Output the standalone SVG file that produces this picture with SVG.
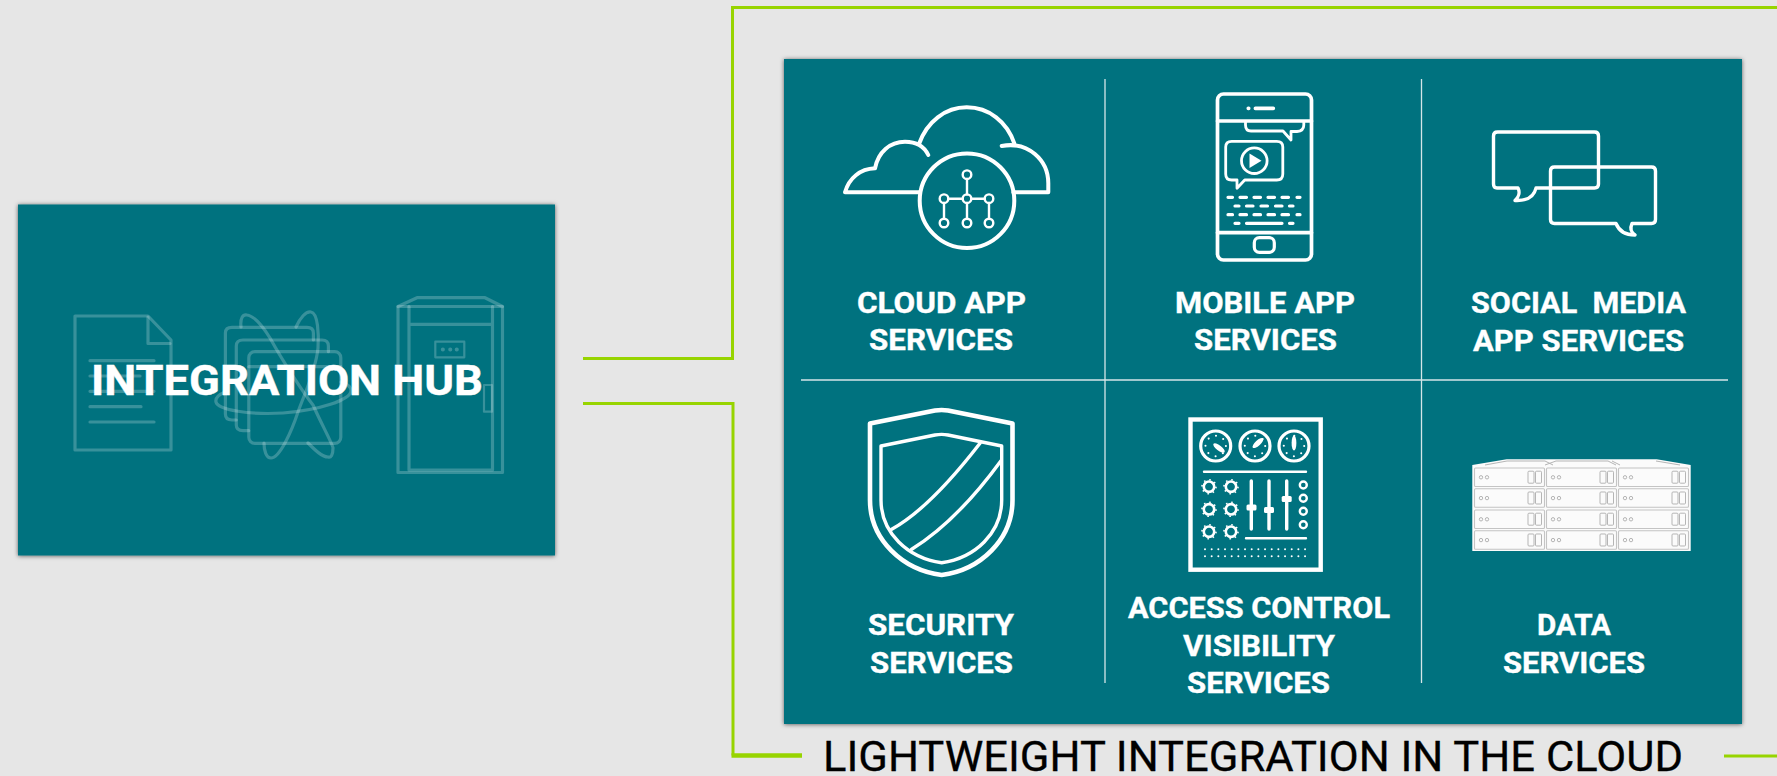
<svg xmlns="http://www.w3.org/2000/svg" xmlns:xlink="http://www.w3.org/1999/xlink" width="1777" height="776" viewBox="0 0 1777 776">
<style>
.box{fill:#02727f;filter:url(#sh)}
.lbl{font-family:Roboto,"Liberation Sans",sans-serif;font-weight:700;font-size:29.5px;fill:#fff;stroke:#fff;stroke-width:.35}
.ic{fill:none;stroke:#fff;stroke-linejoin:round;stroke-linecap:round}
.gh{fill:none;stroke:#fff;stroke-opacity:.22;stroke-width:3.2;stroke-linejoin:round;stroke-linecap:round}
.conn{fill:none;stroke:#97d400;stroke-width:3}
.div{stroke:#d5e6e8;stroke-width:1.3}
.cell{fill:#fbfbfb;stroke:#c4c4c4;stroke-width:1.1}
.srv{fill:none;stroke:#b5b5b5;stroke-width:1}
</style>
<defs>
<filter id="sh" x="-3%" y="-3%" width="106%" height="106%"><feDropShadow dx="0" dy="0.5" stdDeviation="2" flood-color="#000" flood-opacity=".6"/></filter>
<g id="gauge"><circle r="15" fill="none" stroke="#fff" stroke-width="3.2"/><circle r="10.2" fill="none" stroke="#fff" stroke-width="2.1" stroke-linecap="round" stroke-dasharray="0 8.01"/></g>
<g id="knob"><circle r="5.2" fill="none" stroke="#fff" stroke-width="2.6"/><circle r="7" fill="none" stroke="#fff" stroke-width="1.6" stroke-dasharray="1.6 3.9"/></g>
<g id="cell"><rect class="cell" width="70" height="18.5" rx="1"/><circle class="srv" cx="6.5" cy="9.3" r="1.7"/><circle class="srv" cx="12.5" cy="9.3" r="1.7"/><rect class="srv" x="53.5" y="3.2" width="6" height="12" rx="1"/><rect class="srv" x="61" y="3.2" width="6" height="12" rx="1"/></g>
<g id="col"><use href="#cell" y="0"/><use href="#cell" y="20.8"/><use href="#cell" y="42"/><use href="#cell" y="62.8"/></g>
</defs>
<rect width="1777" height="776" fill="#e6e6e6"/>
<g id="connectors">
<path class="conn" d="M583,358.500H732.500V7.500H1777"/>
<path class="conn" d="M583,403.500H733V755.500"/>
<path class="conn" style="stroke-width:4.500" d="M731.500,755.500H802"/>
<path class="conn" d="M1724,756H1777"/>
</g>
<g id="integration-hub">
<rect class="box" x="18" y="204.500" width="537" height="351"/>
<g id="hub-document" class="gh">
<path d="M75,316H148L171,340V450H75Z"/><path d="M148,317V343.500H170"/>
<path d="M90,360.700H154M90,376H140M90,391.300H154M90,406.700H141M90,422H154"/>
</g>
<g id="hub-stack" class="gh">
<path d="M313.400,340V333Q313.400,327.300 307,327.300H232Q225.400,327.300 225.400,333V414Q225.400,420 232,420H236.300"/>
<path d="M328.400,351.700V346Q328.400,340 322,340H243Q236.300,340 236.300,346V425Q236.300,430.700 243,430.700H248.800"/>
<rect x="248.800" y="351.700" width="92" height="91.600" rx="6"/><path d="M248.800,366.700H340.800"/>
<path d="M296,327C300,318 306,311 311,312C318,313 319,335 318,348C316,370 304,395 298,412C292,430 280,458 271,458C266,458 264,450 264,443"/>
<path d="M241,327C240,318 243,314 247,315C255,316 265,330 270,338C285,365 305,395 313,405C322,425 333,445 333,448C333,455 331,458 328,457C322,457 315,450 308,443"/>
<path d="M225,392C218,395 215,398 216,402C218,410 250,415 283,413C320,410 350,400 351,391C351,387 348,384 341,382"/>
</g>
<g id="hub-door" class="gh">
<path d="M398,306.500L417,297.700H485L502.500,306.500"/><rect x="398" y="306.500" width="104.500" height="166"/>
<path d="M409,306.500V470M492.500,306.500V470M409,324.300H492.500M409,470H492.500"/>
<rect x="435.300" y="341.700" width="29" height="15.600" style="stroke-width:2.200"/>
<path d="M442.800,349.400h.1M450.200,349.400h.1M456.700,349.400h.1" style="stroke-width:4"/>
<rect x="484" y="385" width="8" height="26.700" style="stroke-width:2.200"/>
</g>
<text x="91" y="395" textLength="392" lengthAdjust="spacingAndGlyphs" style="font-family:Roboto,'Liberation Sans',sans-serif;font-weight:700;font-size:42px;fill:#fff;stroke:#fff;stroke-width:.4">INTEGRATION HUB</text>
</g>
<g id="cloud-panel">
<rect class="box" x="784" y="59" width="958" height="665"/>
<path class="div" d="M1105,79V683M1421.500,79V683"/>
<path class="div" d="M801,380H1728"/>
</g>
<g id="cloud-app-services">
<g class="ic" stroke-width="4">
<path d="M920,192.300H845C849,178 860,169 875,168.300C878,152 890,141.700 905,141.700C915,141.700 924,146 928.300,155"/>
<path d="M919.300,143.300C927,122 945,107.300 966.700,107.300C989,107.300 1007,122 1014.300,143.300"/>
<path d="M1001.700,146C1028,141 1048.300,160 1048.300,183.300V192.300H1013.300"/>
<circle cx="967" cy="200.700" r="47.300"/>
</g>
<g class="ic" stroke-width="2.400">
<circle cx="967" cy="174.700" r="4.300"/><circle cx="944" cy="198.700" r="4.300"/><circle cx="967" cy="198.700" r="4.300"/><circle cx="989" cy="198.700" r="4.300"/><circle cx="944" cy="223" r="4.300"/><circle cx="967" cy="223" r="4.300"/><circle cx="989" cy="223" r="4.300"/>
<path d="M967,179V194.400M948.300,198.700H962.700M971.300,198.700H984.700M944,203V218.700M967,203V218.700M989,203V218.700"/>
</g>
<text class="lbl" x="857" y="313" textLength="169" lengthAdjust="spacingAndGlyphs">CLOUD APP</text>
<text class="lbl" x="869" y="350" textLength="144" lengthAdjust="spacingAndGlyphs">SERVICES</text>
</g>
<g id="mobile-app-services">
<g class="ic" stroke-width="3.700">
<rect x="1217.500" y="94" width="94" height="166" rx="6"/>
<path d="M1217.500,121H1311.500M1217.500,232.700H1311.500"/>
<path d="M1255.400,108.300H1273.300M1248.300,108.300h.4"/>
<rect x="1254.300" y="237.700" width="20" height="14.600" rx="5" stroke-width="3.200"/>
</g>
<g class="ic" stroke-width="2.800">
<path d="M1245.500,122V125Q1245.500,131 1251,131H1283L1291,140V131.500H1297Q1303.800,131 1303.800,125V122"/>
<path d="M1244.700,180H1276.800Q1282.800,180 1282.800,174V147Q1282.800,141.300 1276.800,141.300H1231.700Q1225.700,141.300 1225.700,147V174Q1225.700,180 1231.700,180H1237V188.300Z"/>
<circle cx="1254.300" cy="160.700" r="12.800"/>
</g>
<path d="M1249.500,153.500L1261.500,160.700L1249.500,168Z" fill="#fff"/>
<g class="ic" stroke-width="3.200">
<path d="M1228,197.300H1232.500M1240,197.300H1246.500M1254,197.300H1260.500M1268,197.300H1274.500M1282,197.300H1288.500M1297,197.300H1300"/>
<path d="M1235,206H1239M1246.500,206H1253M1261,206H1267.500M1275.500,206H1282M1289.500,206H1293"/>
<path d="M1228,214.700H1232.500M1240,214.700H1246.500M1254,214.700H1260.500M1268,214.700H1274.500M1282,214.700H1288.500M1297,214.700H1300"/>
<path d="M1235,223.300H1239M1246.500,223.300H1282M1289.500,223.300H1293"/>
</g>
<text class="lbl" x="1175" y="313" textLength="180" lengthAdjust="spacingAndGlyphs">MOBILE APP</text>
<text class="lbl" x="1194" y="350" textLength="143" lengthAdjust="spacingAndGlyphs">SERVICES</text>
</g>
<g id="social-media-app-services">
<g class="ic" stroke-width="3.400">
<path d="M1518,188H1497Q1493.500,188 1493.500,184V136Q1493.500,132 1497.500,132H1594.500Q1598.500,132 1598.500,136V184Q1598.500,188 1594.500,188H1536C1534,197 1526,201 1515,200.500C1519,197 1520,192 1518,188Z"/>
<path d="M1616,223.500H1554.500Q1550.500,223.500 1550.500,219.500V171Q1550.500,167 1554.500,167H1651.500Q1655.500,167 1655.500,171V219.500Q1655.500,223.500 1651.500,223.500H1632C1630,228 1630.500,232 1635,235C1626,235 1619,231 1616,223.500Z"/>
</g>
<text class="lbl" x="1471" y="313" textLength="215" lengthAdjust="spacingAndGlyphs" style="white-space:pre">SOCIAL  MEDIA</text>
<text class="lbl" x="1473" y="351" textLength="211" lengthAdjust="spacingAndGlyphs">APP SERVICES</text>
</g>
<g id="security-services">
<g class="ic" stroke-width="4.600">
<path d="M870,423.500L935,410.500Q941.700,409.500 948,410.500L1012.500,423.500V500C1012.500,540 980,570 941.700,575C903,570 870,540 870,500Z"/>
</g>
<g class="ic" stroke-width="3.400">
<path d="M881,446L935,435Q941.700,433.800 948,435L1001.700,446V500C1001.700,533 975,558 941.700,562.700C908,558 881,533 881,500Z"/>
<path d="M891.700,529.300Q930,508 980,443.300"/>
<path d="M911.700,549.300Q957,521 1001,460.700"/>
</g>
<text class="lbl" x="868" y="635" textLength="146" lengthAdjust="spacingAndGlyphs">SECURITY</text>
<text class="lbl" x="870" y="673" textLength="143" lengthAdjust="spacingAndGlyphs">SERVICES</text>
</g>
<g id="access-control-visibility-services">
<rect x="1190.500" y="419.500" width="130.200" height="150.200" fill="none" stroke="#fff" stroke-width="4.400"/>
<use href="#gauge" x="1215.700" y="446"/><use href="#gauge" x="1255" y="446"/><use href="#gauge" x="1294" y="446"/>
<ellipse cx="1219" cy="448" rx="7" ry="2.600" fill="#fff" transform="rotate(38 1219 448)"/>
<ellipse cx="1258" cy="443" rx="7" ry="2.600" fill="#fff" transform="rotate(-42 1258 443)"/>
<ellipse cx="1294" cy="443" rx="7.500" ry="2.400" fill="#fff" transform="rotate(90 1294 443)"/>
<g class="ic" stroke-width="2.400"><path d="M1204,471.700H1306M1246,538.300H1306"/></g>
<use href="#knob" x="1209" y="486.700"/><use href="#knob" x="1231" y="486.700"/><use href="#knob" x="1209" y="509.300"/><use href="#knob" x="1231" y="509.300"/><use href="#knob" x="1209" y="531.700"/><use href="#knob" x="1231" y="531.700"/>
<g class="ic" stroke-width="3.400"><path d="M1251.300,481V529M1269,481V529M1286.700,481V529"/></g>
<g fill="#fff"><rect x="1246.500" y="504.500" width="10" height="6" rx="1.500"/><rect x="1264" y="507" width="10" height="6" rx="1.500"/><rect x="1281.700" y="496" width="10" height="6" rx="1.500"/></g>
<g class="ic" stroke-width="2.400"><circle cx="1303.300" cy="485" r="3.500"/><circle cx="1303.300" cy="498.300" r="3.500"/><circle cx="1303.300" cy="511.300" r="3.500"/><circle cx="1303.300" cy="524.700" r="3.500"/></g>
<g class="ic" stroke-width="2" stroke-dasharray="0 6.670"><path d="M1205,549.300H1306M1205,556.300H1306"/></g>
<text class="lbl" x="1128" y="618" textLength="262" lengthAdjust="spacingAndGlyphs">ACCESS CONTROL</text>
<text class="lbl" x="1183" y="656" textLength="152" lengthAdjust="spacingAndGlyphs">VISIBILITY</text>
<text class="lbl" x="1187" y="693" textLength="143" lengthAdjust="spacingAndGlyphs">SERVICES</text>
</g>
<g id="data-services">
<path d="M1472.300,465L1506.700,459.300H1656.700L1690.700,465V551H1472.300Z" fill="#fbfbfb"/>
<path class="srv" d="M1485,465L1507,461H1545L1553,465M1545,465L1556,461H1608L1616,465M1612,461L1620,465M1656,461L1680,465"/>
<use href="#col" x="1474.500" y="468"/><use href="#col" x="1546.500" y="468"/><use href="#col" x="1618.500" y="468"/>
<text class="lbl" x="1537" y="635" textLength="74" lengthAdjust="spacingAndGlyphs">DATA</text>
<text class="lbl" x="1503" y="673" textLength="142" lengthAdjust="spacingAndGlyphs">SERVICES</text>
</g>
<text id="caption" x="823" y="771" textLength="860" lengthAdjust="spacingAndGlyphs" style="font-family:Roboto,'Liberation Sans',sans-serif;font-weight:400;font-size:42px;fill:#000;stroke:#000;stroke-width:.3">LIGHTWEIGHT INTEGRATION IN THE CLOUD</text>
</svg>
